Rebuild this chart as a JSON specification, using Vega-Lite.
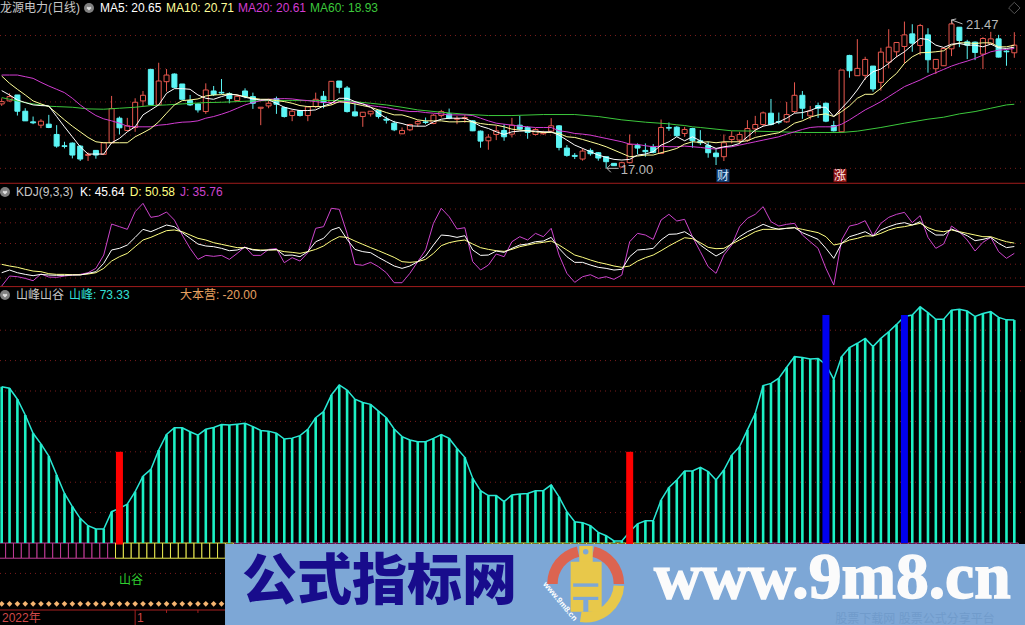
{"$schema":"https://vega.github.io/schema/vega-lite/v6.json","background":"#000000","padding":{"left":-2,"top":0,"right":0,"bottom":0},"spacing":0,"bounds":"flush",
"config":{"axis":{"disable":true},"view":{"stroke":null},"concat":{"spacing":0},"text":{"font":"Liberation Sans, Noto Sans CJK SC","fontSize":12,"align":"left","baseline":"middle"}},
"datasets":{"d":[
{"i":0,"o":18.94,"c":19.01,"h":19.11,"l":18.88,"m5":19.34,"m10":19.78,"m20":19.81,"k":7.7,"d":19.8,"j":-11.6,"f":51.4},
{"i":1,"o":19.03,"c":19.16,"h":19.26,"l":19.01,"m5":19.21,"m10":19.56,"m20":19.81,"k":11.6,"d":17.4,"j":2.9,"f":50.9},
{"i":2,"o":19.21,"c":18.72,"h":19.21,"l":18.59,"m5":19.06,"m10":19.38,"m20":19.81,"k":7.7,"d":15.5,"j":1.9,"f":47.3},
{"i":3,"o":18.72,"c":18.43,"h":18.81,"l":18.43,"m5":18.98,"m10":19.21,"m20":19.76,"k":5.3,"d":12.6,"j":-0.5,"f":42.1},
{"i":4,"o":18.40,"c":18.37,"h":18.56,"l":18.33,"m5":18.91,"m10":19.03,"m20":19.71,"k":3.4,"d":10.1,"j":-3.9,"f":36.1},
{"i":5,"o":18.30,"c":18.42,"h":18.48,"l":18.21,"m5":18.89,"m10":18.94,"m20":19.59,"k":5.3,"d":9.2,"j":5.8,"f":32.6},
{"i":6,"o":18.33,"c":18.23,"h":18.61,"l":18.21,"m5":18.88,"m10":18.86,"m20":19.48,"k":4.3,"d":6.3,"j":1.4,"f":28.6},
{"i":7,"o":18.02,"c":17.67,"h":18.30,"l":17.62,"m5":18.56,"m10":18.66,"m20":19.38,"k":3.9,"d":5.3,"j":1.0,"f":22.4},
{"i":8,"o":17.68,"c":17.66,"h":17.80,"l":17.60,"m5":18.25,"m10":18.46,"m20":19.28,"k":3.9,"d":5.3,"j":2.9,"f":16.3},
{"i":9,"o":17.76,"c":17.40,"h":17.78,"l":17.30,"m5":17.95,"m10":18.27,"m20":19.11,"k":4.3,"d":4.8,"j":4.3,"f":12.0},
{"i":10,"o":17.67,"c":17.28,"h":17.70,"l":17.22,"m5":17.65,"m10":18.10,"m20":18.91,"k":4.3,"d":4.8,"j":5.3,"f":8.1},
{"i":11,"o":17.39,"c":17.42,"h":17.48,"l":17.22,"m5":17.43,"m10":17.93,"m20":18.74,"k":6.8,"d":5.8,"j":7.7,"f":5.7},
{"i":12,"o":17.54,"c":17.40,"h":17.55,"l":17.29,"m5":17.43,"m10":17.80,"m20":18.59,"k":9.2,"d":7.7,"j":14.0,"f":4.6},
{"i":13,"o":17.42,"c":17.77,"h":17.77,"l":17.40,"m5":17.43,"m10":17.77,"m20":18.49,"k":21.3,"d":14.0,"j":33.3,"f":4.6},
{"i":14,"o":17.77,"c":18.80,"h":19.18,"l":17.75,"m5":17.77,"m10":17.77,"m20":18.43,"k":40.6,"d":24.6,"j":78.2,"f":10.3},
{"i":15,"o":18.51,"c":18.22,"h":18.56,"l":18.02,"m5":17.90,"m10":17.77,"m20":18.36,"k":43.0,"d":30.9,"j":74.4,"f":11.4},
{"i":16,"o":18.14,"c":18.28,"h":18.52,"l":18.12,"m5":18.10,"m10":17.77,"m20":18.27,"k":47.8,"d":35.7,"j":70.5,"f":12.8},
{"i":17,"o":18.23,"c":18.99,"h":19.11,"l":18.10,"m5":18.25,"m10":17.95,"m20":18.25,"k":58.9,"d":45.4,"j":96.1,"f":16.9},
{"i":18,"o":19.03,"c":19.20,"h":19.33,"l":18.88,"m5":18.61,"m10":18.07,"m20":18.25,"k":70.5,"d":55.1,"j":108.2,"f":22.0},
{"i":19,"o":19.98,"c":18.92,"h":19.98,"l":18.90,"m5":18.76,"m10":18.20,"m20":18.25,"k":67.1,"d":58.9,"j":87.9,"f":24.2},
{"i":20,"o":18.91,"c":19.63,"h":20.18,"l":18.88,"m5":18.91,"m10":18.40,"m20":18.30,"k":72.0,"d":63.8,"j":89.8,"f":30.6},
{"i":21,"o":19.61,"c":19.81,"h":19.99,"l":19.31,"m5":19.26,"m10":18.66,"m20":18.32,"k":76.8,"d":68.6,"j":95.6,"f":35.7},
{"i":22,"o":19.84,"c":19.44,"h":19.86,"l":19.41,"m5":19.40,"m10":18.91,"m20":18.36,"k":74.4,"d":69.6,"j":84.0,"f":37.9},
{"i":23,"o":19.54,"c":19.08,"h":19.54,"l":19.06,"m5":19.40,"m10":19.04,"m20":18.39,"k":65.7,"d":67.1,"j":62.3,"f":37.9},
{"i":24,"o":19.04,"c":18.91,"h":19.21,"l":18.88,"m5":19.38,"m10":19.06,"m20":18.40,"k":57.5,"d":62.3,"j":43.0,"f":36.6},
{"i":25,"o":18.94,"c":18.76,"h":18.96,"l":18.68,"m5":19.21,"m10":19.09,"m20":18.43,"k":49.3,"d":57.5,"j":27.0,"f":35.5},
{"i":26,"o":18.71,"c":19.36,"h":19.56,"l":18.64,"m5":19.11,"m10":19.18,"m20":18.51,"k":46.4,"d":55.1,"j":32.8,"f":37.4},
{"i":27,"o":19.33,"c":19.22,"h":19.48,"l":19.18,"m5":19.08,"m10":19.21,"m20":18.56,"k":45.4,"d":51.2,"j":31.4,"f":38.0},
{"i":28,"o":19.29,"c":19.27,"h":19.69,"l":19.23,"m5":19.16,"m10":19.22,"m20":18.63,"k":43.0,"d":48.8,"j":32.8,"f":39.0},
{"i":29,"o":19.25,"c":19.10,"h":19.29,"l":18.96,"m5":19.23,"m10":19.24,"m20":18.71,"k":39.6,"d":46.4,"j":27.0,"f":38.8},
{"i":30,"o":19.04,"c":19.17,"h":19.21,"l":19.02,"m5":19.21,"m10":19.21,"m20":18.81,"k":40.6,"d":44.0,"j":35.7,"f":39.1},
{"i":31,"o":19.33,"c":19.16,"h":19.41,"l":19.11,"m5":19.14,"m10":19.16,"m20":18.91,"k":44.4,"d":44.0,"j":45.4,"f":39.4},
{"i":32,"o":19.16,"c":18.96,"h":19.28,"l":18.79,"m5":19.09,"m10":19.11,"m20":18.98,"k":40.6,"d":41.5,"j":32.8,"f":38.3},
{"i":33,"o":18.81,"c":18.84,"h":18.84,"l":18.30,"m5":19.06,"m10":19.08,"m20":19.04,"k":39.6,"d":40.6,"j":32.8,"f":37.0},
{"i":34,"o":18.88,"c":18.96,"h":19.08,"l":18.81,"m5":19.06,"m10":19.08,"m20":19.08,"k":40.6,"d":40.6,"j":41.5,"f":36.8},
{"i":35,"o":19.10,"c":18.93,"h":19.16,"l":18.64,"m5":18.96,"m10":19.04,"m20":19.09,"k":41.5,"d":40.6,"j":42.5,"f":36.1},
{"i":36,"o":18.83,"c":18.56,"h":18.86,"l":18.53,"m5":18.84,"m10":19.01,"m20":19.10,"k":32.8,"d":38.2,"j":22.2,"f":34.2},
{"i":37,"o":18.59,"c":18.72,"h":18.76,"l":18.42,"m5":18.78,"m10":18.96,"m20":19.09,"k":33.3,"d":37.2,"j":29.5,"f":34.5},
{"i":38,"o":18.74,"c":18.59,"h":18.76,"l":18.56,"m5":18.74,"m10":18.89,"m20":19.06,"k":30.9,"d":35.7,"j":24.6,"f":35.3},
{"i":39,"o":18.59,"c":18.85,"h":18.86,"l":18.42,"m5":18.74,"m10":18.86,"m20":19.04,"k":38.2,"d":38.2,"j":36.7,"f":37.4},
{"i":40,"o":18.86,"c":19.08,"h":19.28,"l":18.81,"m5":18.76,"m10":18.86,"m20":19.01,"k":52.6,"d":41.5,"j":72.0,"f":41.2},
{"i":41,"o":19.17,"c":18.98,"h":19.33,"l":18.81,"m5":18.88,"m10":18.86,"m20":18.98,"k":57.5,"d":46.4,"j":74.4,"f":43.2},
{"i":42,"o":18.98,"c":19.62,"h":19.62,"l":18.91,"m5":18.96,"m10":18.91,"m20":18.98,"k":69.6,"d":54.1,"j":101.0,"f":48.7},
{"i":43,"o":19.63,"c":19.44,"h":19.63,"l":19.26,"m5":19.11,"m10":19.01,"m20":18.99,"k":73.4,"d":59.9,"j":99.5,"f":52.0},
{"i":44,"o":19.42,"c":18.71,"h":19.48,"l":18.68,"m5":19.11,"m10":18.98,"m20":19.01,"k":56.0,"d":58.9,"j":64.7,"f":50.3},
{"i":45,"o":18.70,"c":18.58,"h":18.96,"l":18.56,"m5":19.01,"m10":18.94,"m20":18.98,"k":41.5,"d":53.6,"j":19.8,"f":47.3},
{"i":46,"o":18.56,"c":18.69,"h":18.69,"l":18.25,"m5":18.94,"m10":18.89,"m20":18.94,"k":38.2,"d":48.8,"j":18.4,"f":46.2},
{"i":47,"o":18.64,"c":18.72,"h":18.72,"l":18.56,"m5":18.84,"m10":18.84,"m20":18.89,"k":36.7,"d":44.0,"j":22.7,"f":45.6},
{"i":48,"o":18.75,"c":18.56,"h":18.75,"l":18.50,"m5":18.66,"m10":18.76,"m20":18.86,"k":29.9,"d":39.6,"j":16.4,"f":43.4},
{"i":49,"o":18.48,"c":18.45,"h":18.56,"l":18.35,"m5":18.51,"m10":18.68,"m20":18.83,"k":23.7,"d":34.8,"j":7.7,"f":41.2},
{"i":50,"o":18.36,"c":18.16,"h":18.43,"l":18.12,"m5":18.40,"m10":18.61,"m20":18.78,"k":17.4,"d":29.9,"j":-6.8,"f":37.5},
{"i":51,"o":18.04,"c":18.14,"h":18.23,"l":18.03,"m5":18.35,"m10":18.61,"m20":18.74,"k":14.0,"d":23.7,"j":-6.8,"f":35.0},
{"i":52,"o":18.16,"c":18.32,"h":18.34,"l":18.12,"m5":18.28,"m10":18.54,"m20":18.71,"k":17.4,"d":22.7,"j":6.8,"f":33.9},
{"i":53,"o":18.34,"c":18.41,"h":18.45,"l":18.25,"m5":18.27,"m10":18.46,"m20":18.71,"k":23.7,"d":23.7,"j":23.7,"f":33.3},
{"i":54,"o":18.40,"c":18.38,"h":18.53,"l":18.33,"m5":18.27,"m10":18.43,"m20":18.68,"k":31.9,"d":27.0,"j":40.6,"f":33.3},
{"i":55,"o":18.35,"c":18.60,"h":18.63,"l":18.33,"m5":18.40,"m10":18.43,"m20":18.66,"k":47.8,"d":35.7,"j":79.2,"f":34.4},
{"i":56,"o":18.59,"c":18.71,"h":18.76,"l":18.53,"m5":18.48,"m10":18.43,"m20":18.64,"k":62.3,"d":46.9,"j":101.0,"f":35.7},
{"i":57,"o":18.64,"c":18.51,"h":18.80,"l":18.48,"m5":18.51,"m10":18.40,"m20":18.61,"k":61.3,"d":51.2,"j":88.9,"f":34.4},
{"i":58,"o":18.48,"c":18.50,"h":18.58,"l":18.33,"m5":18.51,"m10":18.40,"m20":18.61,"k":58.9,"d":53.6,"j":71.0,"f":31.1},
{"i":59,"o":18.50,"c":18.53,"h":18.61,"l":18.37,"m5":18.51,"m10":18.41,"m20":18.61,"k":61.3,"d":55.1,"j":72.9,"f":28.2},
{"i":60,"o":18.43,"c":18.13,"h":18.45,"l":18.12,"m5":18.40,"m10":18.40,"m20":18.59,"k":40.6,"d":49.3,"j":23.7,"f":21.3},
{"i":61,"o":18.12,"c":17.82,"h":18.14,"l":17.62,"m5":18.27,"m10":18.35,"m20":18.51,"k":32.8,"d":44.0,"j":11.6,"f":17.2},
{"i":62,"o":17.83,"c":17.94,"h":18.03,"l":17.56,"m5":18.20,"m10":18.32,"m20":18.43,"k":33.3,"d":41.5,"j":18.8,"f":15.6},
{"i":63,"o":18.02,"c":18.13,"h":18.28,"l":17.85,"m5":18.10,"m10":18.30,"m20":18.36,"k":39.1,"d":39.6,"j":34.8,"f":15.6},
{"i":64,"o":18.14,"c":17.95,"h":18.33,"l":17.83,"m5":18.02,"m10":18.25,"m20":18.33,"k":37.2,"d":38.6,"j":30.9,"f":13.6},
{"i":65,"o":18.03,"c":18.30,"h":18.52,"l":17.93,"m5":18.10,"m10":18.18,"m20":18.30,"k":43.0,"d":41.5,"j":52.6,"f":15.8},
{"i":66,"o":18.30,"c":18.18,"h":18.58,"l":18.15,"m5":18.12,"m10":18.15,"m20":18.27,"k":47.8,"d":45.4,"j":59.9,"f":16.1},
{"i":67,"o":18.23,"c":18.08,"h":18.27,"l":17.89,"m5":18.13,"m10":18.13,"m20":18.25,"k":49.3,"d":47.8,"j":55.1,"f":16.3},
{"i":68,"o":18.02,"c":18.17,"h":18.21,"l":17.99,"m5":18.12,"m10":18.10,"m20":18.23,"k":52.6,"d":50.2,"j":64.7,"f":17.2},
{"i":69,"o":18.04,"c":18.07,"h":18.13,"l":18.01,"m5":18.10,"m10":18.08,"m20":18.23,"k":53.6,"d":51.7,"j":59.9,"f":17.2},
{"i":70,"o":18.12,"c":18.28,"h":18.51,"l":18.09,"m5":18.10,"m10":18.08,"m20":18.23,"k":58.9,"d":53.6,"j":72.0,"f":19.1},
{"i":71,"o":18.28,"c":17.63,"h":18.30,"l":17.54,"m5":18.00,"m10":18.05,"m20":18.13,"k":43.0,"d":47.8,"j":33.3,"f":15.2},
{"i":72,"o":17.61,"c":17.39,"h":17.70,"l":17.35,"m5":17.85,"m10":17.95,"m20":18.10,"k":30.9,"d":40.6,"j":6.8,"f":10.3},
{"i":73,"o":17.39,"c":17.36,"h":17.46,"l":17.28,"m5":17.70,"m10":17.93,"m20":18.05,"k":22.7,"d":33.3,"j":-6.3,"f":7.0},
{"i":74,"o":17.28,"c":17.52,"h":17.60,"l":17.23,"m5":17.60,"m10":17.87,"m20":18.03,"k":22.7,"d":30.0,"j":1.9,"f":6.7},
{"i":75,"o":17.54,"c":17.44,"h":17.60,"l":17.38,"m5":17.50,"m10":17.80,"m20":18.00,"k":18.8,"d":26.1,"j":4.8,"f":5.7},
{"i":76,"o":17.47,"c":17.31,"h":17.49,"l":17.23,"m5":17.40,"m10":17.73,"m20":17.95,"k":15.5,"d":22.7,"j":-0.5,"f":3.5},
{"i":77,"o":17.35,"c":17.20,"h":17.35,"l":17.00,"m5":17.33,"m10":17.65,"m20":17.90,"k":14.0,"d":20.3,"j":1.9,"f":2.4},
{"i":78,"o":17.15,"c":17.08,"h":17.15,"l":17.07,"m5":17.27,"m10":17.55,"m20":17.85,"k":11.6,"d":17.4,"j":-1.9,"f":0.7},
{"i":79,"o":17.04,"c":17.17,"h":17.20,"l":17.02,"m5":17.25,"m10":17.45,"m20":17.80,"k":12.6,"d":15.5,"j":4.3,"f":0.7},
{"i":80,"o":17.17,"c":17.72,"h":18.02,"l":17.15,"m5":17.27,"m10":17.35,"m20":17.73,"k":30.9,"d":17.4,"j":52.6,"f":3.7},
{"i":81,"o":17.69,"c":17.61,"h":17.75,"l":17.43,"m5":17.40,"m10":17.37,"m20":17.72,"k":40.6,"d":24.6,"j":64.7,"f":6.3},
{"i":82,"o":17.54,"c":17.50,"h":17.75,"l":17.35,"m5":17.43,"m10":17.40,"m20":17.68,"k":41.5,"d":29.5,"j":62.3,"f":7.3},
{"i":83,"o":17.64,"c":17.48,"h":17.73,"l":17.45,"m5":17.50,"m10":17.40,"m20":17.65,"k":43.0,"d":33.3,"j":56.0,"f":7.3},
{"i":84,"o":17.45,"c":18.23,"h":18.47,"l":17.43,"m5":17.70,"m10":17.47,"m20":17.67,"k":55.1,"d":39.6,"j":84.0,"f":14.1},
{"i":85,"o":18.23,"c":18.21,"h":18.38,"l":18.13,"m5":17.80,"m10":17.53,"m20":17.65,"k":63.3,"d":46.4,"j":92.3,"f":18.3},
{"i":86,"o":18.24,"c":17.98,"h":18.27,"l":17.95,"m5":17.95,"m10":17.60,"m20":17.65,"k":63.8,"d":52.6,"j":82.6,"f":20.7},
{"i":87,"o":18.05,"c":18.17,"h":18.25,"l":17.95,"m5":17.83,"m10":17.73,"m20":17.67,"k":67.1,"d":58.4,"j":85.0,"f":23.7},
{"i":88,"o":18.20,"c":17.83,"h":18.22,"l":17.62,"m5":17.95,"m10":17.80,"m20":17.65,"k":59.9,"d":57.0,"j":59.9,"f":23.7},
{"i":89,"o":17.83,"c":17.77,"h":18.15,"l":17.70,"m5":17.83,"m10":17.78,"m20":17.63,"k":47.8,"d":51.2,"j":38.2,"f":24.9},
{"i":90,"o":17.69,"c":17.47,"h":17.80,"l":17.32,"m5":17.70,"m10":17.80,"m20":17.60,"k":39.6,"d":44.4,"j":16.4,"f":23.5},
{"i":91,"o":17.46,"c":17.35,"h":17.58,"l":17.10,"m5":17.60,"m10":17.77,"m20":17.58,"k":31.9,"d":42.5,"j":6.8,"f":20.7},
{"i":92,"o":17.35,"c":17.77,"h":18.02,"l":17.22,"m5":17.65,"m10":17.80,"m20":17.63,"k":38.2,"d":43.0,"j":33.3,"f":24.0},
{"i":93,"o":17.87,"c":17.96,"h":18.12,"l":17.75,"m5":17.68,"m10":17.80,"m20":17.65,"k":50.2,"d":49.3,"j":47.8,"f":28.9},
{"i":94,"o":17.85,"c":18.02,"h":18.10,"l":17.75,"m5":17.75,"m10":17.80,"m20":17.70,"k":59.9,"d":55.1,"j":74.4,"f":31.7},
{"i":95,"o":17.85,"c":18.20,"h":18.45,"l":17.80,"m5":17.95,"m10":17.83,"m20":17.75,"k":67.1,"d":60.9,"j":86.5,"f":37.2},
{"i":96,"o":18.19,"c":18.32,"h":18.58,"l":18.05,"m5":18.15,"m10":17.93,"m20":17.80,"k":72.0,"d":67.1,"j":92.3,"f":42.7},
{"i":97,"o":18.32,"c":18.67,"h":18.71,"l":18.27,"m5":18.27,"m10":17.98,"m20":17.85,"k":77.8,"d":70.5,"j":103.4,"f":51.8},
{"i":98,"o":18.66,"c":18.32,"h":19.09,"l":18.29,"m5":18.32,"m10":18.03,"m20":17.90,"k":73.4,"d":70.5,"j":81.6,"f":52.5},
{"i":99,"o":18.41,"c":18.39,"h":18.68,"l":18.33,"m5":18.40,"m10":18.07,"m20":17.95,"k":70.5,"d":71.0,"j":75.3,"f":54.2},
{"i":100,"o":18.40,"c":18.62,"h":19.00,"l":18.37,"m5":18.51,"m10":18.20,"m20":18.03,"k":72.0,"d":72.0,"j":77.8,"f":57.8},
{"i":101,"o":18.71,"c":19.20,"h":19.59,"l":18.66,"m5":18.66,"m10":18.36,"m20":18.10,"k":72.9,"d":72.9,"j":79.2,"f":61.3},
{"i":102,"o":19.20,"c":18.81,"h":19.33,"l":18.49,"m5":18.68,"m10":18.43,"m20":18.17,"k":65.7,"d":70.5,"j":62.3,"f":61.0},
{"i":103,"o":18.58,"c":18.73,"h":18.88,"l":18.47,"m5":18.74,"m10":18.54,"m20":18.23,"k":60.9,"d":68.1,"j":52.6,"f":60.5},
{"i":104,"o":18.89,"c":18.81,"h":18.98,"l":18.52,"m5":18.84,"m10":18.61,"m20":18.25,"k":56.0,"d":65.7,"j":43.0,"f":60.7},
{"i":105,"o":18.96,"c":18.42,"h":18.98,"l":18.39,"m5":18.84,"m10":18.64,"m20":18.25,"k":43.0,"d":59.9,"j":14.0,"f":58.6},
{"i":106,"o":18.29,"c":18.13,"h":18.43,"l":18.11,"m5":18.56,"m10":18.56,"m20":18.25,"k":28.5,"d":47.8,"j":-10.1,"f":53.8},
{"i":107,"o":18.10,"c":19.96,"h":19.96,"l":18.08,"m5":18.81,"m10":18.71,"m20":18.33,"k":50.2,"d":50.2,"j":55.1,"f":61.3},
{"i":108,"o":20.40,"c":19.94,"h":20.42,"l":19.73,"m5":19.06,"m10":18.88,"m20":18.46,"k":59.9,"d":55.1,"j":75.3,"f":64.3},
{"i":109,"o":19.79,"c":20.01,"h":20.89,"l":19.78,"m5":19.36,"m10":19.11,"m20":18.61,"k":63.3,"d":57.5,"j":77.8,"f":65.7},
{"i":110,"o":19.80,"c":20.28,"h":20.36,"l":19.66,"m5":19.71,"m10":19.23,"m20":18.76,"k":67.1,"d":60.9,"j":83.1,"f":67.3},
{"i":111,"o":20.08,"c":19.39,"h":20.08,"l":19.31,"m5":19.91,"m10":19.23,"m20":18.88,"k":60.9,"d":60.9,"j":61.3,"f":64.6},
{"i":112,"o":19.59,"c":20.50,"h":20.63,"l":19.34,"m5":19.99,"m10":19.41,"m20":19.01,"k":69.6,"d":64.7,"j":79.2,"f":67.3},
{"i":113,"o":20.20,"c":20.65,"h":21.19,"l":20.01,"m5":20.16,"m10":19.66,"m20":19.16,"k":74.4,"d":69.6,"j":87.9,"f":69.5},
{"i":114,"o":20.51,"c":20.79,"h":20.79,"l":20.34,"m5":20.36,"m10":19.86,"m20":19.31,"k":78.2,"d":72.9,"j":92.3,"f":71.9},
{"i":115,"o":20.67,"c":21.02,"h":21.42,"l":20.16,"m5":20.51,"m10":20.16,"m20":19.46,"k":80.2,"d":74.4,"j":95.1,"f":74.5},
{"i":116,"o":21.05,"c":20.77,"h":21.34,"l":20.51,"m5":20.71,"m10":20.36,"m20":19.56,"k":76.8,"d":76.8,"j":80.2,"f":75.0},
{"i":117,"o":20.70,"c":21.30,"h":21.35,"l":20.41,"m5":20.91,"m10":20.48,"m20":19.66,"k":81.6,"d":79.2,"j":90.3,"f":77.7},
{"i":118,"o":21.02,"c":20.27,"h":21.22,"l":19.88,"m5":20.88,"m10":20.49,"m20":19.78,"k":69.6,"d":72.9,"j":58.9,"f":75.8},
{"i":119,"o":20.00,"c":20.28,"h":20.28,"l":19.84,"m5":20.71,"m10":20.51,"m20":19.88,"k":62.3,"d":68.6,"j":43.0,"f":73.6},
{"i":120,"o":20.09,"c":20.61,"h":20.65,"l":20.08,"m5":20.64,"m10":20.54,"m20":19.98,"k":62.3,"d":67.1,"j":49.3,"f":73.6},
{"i":121,"o":20.60,"c":21.35,"h":21.47,"l":20.38,"m5":20.74,"m10":20.71,"m20":20.08,"k":71.0,"d":69.6,"j":75.3,"f":76.6},
{"i":122,"o":21.25,"c":20.85,"h":21.25,"l":20.65,"m5":20.76,"m10":20.78,"m20":20.16,"k":66.2,"d":67.1,"j":67.1,"f":76.9},
{"i":123,"o":20.81,"c":20.71,"h":20.87,"l":20.29,"m5":20.71,"m10":20.78,"m20":20.23,"k":61.3,"d":64.7,"j":55.1,"f":76.3},
{"i":124,"o":20.80,"c":20.49,"h":20.82,"l":20.26,"m5":20.71,"m10":20.76,"m20":20.31,"k":54.1,"d":62.3,"j":39.1,"f":74.5},
{"i":125,"o":20.44,"c":20.91,"h":20.95,"l":19.99,"m5":20.66,"m10":20.78,"m20":20.41,"k":56.0,"d":59.9,"j":51.7,"f":75.5},
{"i":126,"o":20.75,"c":20.90,"h":21.11,"l":20.72,"m5":20.74,"m10":20.78,"m20":20.51,"k":58.9,"d":59.9,"j":58.9,"f":76.1},
{"i":127,"o":20.90,"c":20.35,"h":21.02,"l":20.34,"m5":20.63,"m10":20.66,"m20":20.56,"k":50.2,"d":56.0,"j":38.2,"f":74.2},
{"i":128,"o":20.53,"c":20.51,"h":20.56,"l":20.09,"m5":20.61,"m10":20.66,"m20":20.58,"k":44.0,"d":52.6,"j":28.5,"f":73.4},
{"i":129,"o":20.48,"c":20.71,"h":21.10,"l":20.33,"m5":20.65,"m10":20.71,"m20":20.61,"k":45.64,"d":50.58,"j":35.76,"f":73.33}
],
"ma60":[{"i":0,"v":19.13},{"i":1,"v":19.08},{"i":2,"v":19.03},{"i":3,"v":18.98},{"i":4,"v":18.94},{"i":5,"v":18.91},{"i":6,"v":18.87},{"i":7,"v":18.86},{"i":9,"v":18.84},{"i":11,"v":18.79},{"i":13,"v":18.78},{"i":15,"v":18.81},{"i":17,"v":18.84},{"i":19,"v":18.89},{"i":21,"v":18.91},{"i":23,"v":18.94},{"i":26,"v":18.98},{"i":28,"v":18.99},{"i":30,"v":19.01},{"i":32,"v":19.03},{"i":34,"v":19.04},{"i":37,"v":19.04},{"i":40,"v":19.04},{"i":43,"v":19.04},{"i":44,"v":19.03},{"i":47,"v":18.96},{"i":49,"v":18.91},{"i":51,"v":18.84},{"i":53,"v":18.76},{"i":56,"v":18.69},{"i":59,"v":18.63},{"i":62,"v":18.59},{"i":65,"v":18.59},{"i":69,"v":18.62},{"i":73,"v":18.62},{"i":76,"v":18.56},{"i":79,"v":18.46},{"i":82,"v":18.39},{"i":85,"v":18.34},{"i":86,"v":18.31},{"i":87,"v":18.29},{"i":88,"v":18.25},{"i":89,"v":18.23},{"i":91,"v":18.18},{"i":93,"v":18.13},{"i":96,"v":18.12},{"i":99,"v":18.10},{"i":102,"v":18.08},{"i":105,"v":18.08},{"i":107,"v":18.08},{"i":109,"v":18.12},{"i":112,"v":18.23},{"i":115,"v":18.36},{"i":118,"v":18.48},{"i":120,"v":18.54},{"i":122,"v":18.64},{"i":124,"v":18.71},{"i":126,"v":18.81},{"i":128,"v":18.91},{"i":129,"v":18.93}]
},
"vconcat":[
{"width":1025,"height":184,
"encoding":{"x":{"scale":{"domain":[-0.2166,130.36],"nice":false,"zero":false,"padding":0}}},
"layer":[
{"data":{"values":[{"v":17},{"v":18},{"v":19},{"v":20},{"v":21}]},"mark":{"type":"rule","color":"#7a1c1c","strokeDash":[1,4]},"encoding":{"x":{"datum":-0.2166},"x2":{"datum":130.36},"y":{"field":"v","type":"quantitative","scale":{"domain":[16.528,22.07],"nice":false,"zero":false}}}},
{"data":{"name":"d"},"transform":[{"filter":"datum.c>=datum.o"}],"mark":{"type":"rule","color":"#e8584e"},"encoding":{"x":{"field":"i","type":"quantitative"},"y":{"field":"h","type":"quantitative"},"y2":{"field":"l"}}},
{"data":{"name":"d"},"transform":[{"filter":"datum.c<datum.o"}],"mark":{"type":"rule","color":"#5cf5f5"},"encoding":{"x":{"field":"i","type":"quantitative"},"y":{"field":"h","type":"quantitative"},"y2":{"field":"l"}}},
{"data":{"name":"d"},"transform":[{"filter":"datum.c>=datum.o"}],"mark":{"type":"bar","clip":true,"width":5,"fill":"#000000","stroke":"#e8584e","strokeWidth":1},"encoding":{"x":{"field":"i","type":"quantitative"},"y":{"field":"c","type":"quantitative"},"y2":{"field":"o"}}},
{"data":{"name":"d"},"transform":[{"filter":"datum.c<datum.o"}],"mark":{"type":"bar","clip":true,"width":5,"fill":"#5cf5f5","stroke":"#5cf5f5","strokeWidth":1},"encoding":{"x":{"field":"i","type":"quantitative"},"y":{"field":"o","type":"quantitative"},"y2":{"field":"c"}}},
{"data":{"name":"ma60"},"mark":{"type":"line","color":"#3cc83c","strokeWidth":1},"encoding":{"x":{"field":"i","type":"quantitative"},"y":{"field":"v","type":"quantitative"}}},
{"data":{"name":"d"},"mark":{"type":"line","color":"#d23cd2","strokeWidth":1},"encoding":{"x":{"field":"i","type":"quantitative"},"y":{"field":"m20","type":"quantitative"}}},
{"data":{"name":"d"},"mark":{"type":"line","color":"#ffff99","strokeWidth":1},"encoding":{"x":{"field":"i","type":"quantitative"},"y":{"field":"m10","type":"quantitative"}}},
{"data":{"name":"d"},"mark":{"type":"line","color":"#ffffff","strokeWidth":1},"encoding":{"x":{"field":"i","type":"quantitative"},"y":{"field":"m5","type":"quantitative"}}},
{"data":{"values":[{"a":77.1,"b":78.6,"p":17.0,"q":17.0},{"a":77.1,"b":77.6,"p":17.0,"q":17.12},{"a":77.1,"b":77.6,"p":17.0,"q":16.88},{"a":121,"b":122.4,"p":21.47,"q":21.35},{"a":121,"b":121.6,"p":21.47,"q":21.5},{"a":121,"b":121.1,"p":21.47,"q":21.35}]},"mark":{"type":"rule","color":"#b8b8b8"},"encoding":{"x":{"field":"a","type":"quantitative"},"x2":{"field":"b"},"y":{"field":"p","type":"quantitative"},"y2":{"field":"q"}}},
{"data":{"values":[{"t":"17.00"}]},"mark":{"type":"text","color":"#b8b8b8","fontSize":13},"encoding":{"x":{"datum":78.85},"y":{"datum":16.95},"text":{"field":"t"}}},
{"data":{"values":[{"t":"21.47"}]},"mark":{"type":"text","color":"#b8b8b8","fontSize":13},"encoding":{"x":{"datum":122.85},"y":{"datum":21.33},"text":{"field":"t"}}},
{"data":{"values":[{"t":"x"}]},"mark":{"type":"point","shape":"square","filled":true,"size":170,"color":"#0f3a6e","opacity":1},"encoding":{"x":{"datum":91.88},"y":{"datum":16.78}}},
{"data":{"values":[{"t":"财"}]},"mark":{"type":"text","align":"center","color":"#cfe6ff"},"encoding":{"x":{"datum":91.88},"y":{"datum":16.78},"text":{"field":"t"}}},
{"data":{"values":[{"t":"x"}]},"mark":{"type":"point","shape":"square","filled":true,"size":170,"color":"#8b1212","opacity":1},"encoding":{"x":{"datum":106.8},"y":{"datum":16.78}}},
{"data":{"values":[{"t":"涨"}]},"mark":{"type":"text","align":"center","color":"#ffe6e6"},"encoding":{"x":{"datum":106.8},"y":{"datum":16.78},"text":{"field":"t"}}},
{"data":{"values":[{"t":"x"}]},"mark":{"type":"point","shape":"diamond","filled":false,"size":130,"color":"#555555","strokeWidth":1,"opacity":1},"encoding":{"x":{"datum":129},"y":{"datum":21.83}}},
{"data":{"values":[{"t":"x"}]},"mark":{"type":"point","shape":"circle","filled":true,"size":100,"color":"#808080","opacity":1},"encoding":{"x":{"datum":11.12},"y":{"datum":21.83}}},
{"data":{"values":[{"t":"x"}]},"mark":{"type":"point","shape":"M-0.6,-0.25L0,0.35L0.6,-0.25","filled":false,"size":36,"color":"#e0e0e0","opacity":1},"encoding":{"x":{"datum":11.12},"y":{"datum":21.83}}},
{"data":{"values":[{"t":"龙源电力(日线)"}]},"mark":{"type":"text","color":"#c8c8c8"},"encoding":{"x":{"datum":-0.2166},"y":{"datum":21.83},"text":{"field":"t"}}},
{"data":{"values":[{"t":"MA5: 20.65"}]},"mark":{"type":"text","color":"#ffffff"},"encoding":{"x":{"datum":12.52},"y":{"datum":21.83},"text":{"field":"t"}}},
{"data":{"values":[{"t":"MA10: 20.71"}]},"mark":{"type":"text","color":"#ffff99"},"encoding":{"x":{"datum":20.93},"y":{"datum":21.83},"text":{"field":"t"}}},
{"data":{"values":[{"t":"MA20: 20.61"}]},"mark":{"type":"text","color":"#d23cd2"},"encoding":{"x":{"datum":30.1},"y":{"datum":21.83},"text":{"field":"t"}}},
{"data":{"values":[{"t":"MA60: 18.93"}]},"mark":{"type":"text","color":"#3cc83c"},"encoding":{"x":{"datum":39.27},"y":{"datum":21.83},"text":{"field":"t"}}},
{"data":{"values":[{"t":"x"}]},"mark":{"type":"rule","color":"#a01c1c"},"encoding":{"x":{"datum":-0.2166},"x2":{"datum":130.36},"y":{"datum":16.55}}}
]},
{"width":1025,"height":103,
"encoding":{"x":{"scale":{"domain":[-0.2166,130.36],"nice":false,"zero":false,"padding":0}}},
"layer":[
{"data":{"values":[{"v":0},{"v":20},{"v":50},{"v":80},{"v":100}]},"mark":{"type":"rule","color":"#7a1c1c","strokeDash":[1,4]},"encoding":{"x":{"datum":-0.2166},"x2":{"datum":130.36},"y":{"field":"v","type":"quantitative","scale":{"domain":[-13,136.2],"nice":false,"zero":false}}}},
{"data":{"name":"d"},"mark":{"type":"line","color":"#cc44cc","strokeWidth":1},"encoding":{"x":{"field":"i","type":"quantitative"},"y":{"field":"j","type":"quantitative"}}},
{"data":{"name":"d"},"mark":{"type":"line","color":"#ffff80","strokeWidth":1},"encoding":{"x":{"field":"i","type":"quantitative"},"y":{"field":"d","type":"quantitative"}}},
{"data":{"name":"d"},"mark":{"type":"line","color":"#ffffff","strokeWidth":1},"encoding":{"x":{"field":"i","type":"quantitative"},"y":{"field":"k","type":"quantitative"}}},
{"data":{"values":[{"t":"x"}]},"mark":{"type":"point","clip":true,"shape":"circle","filled":true,"size":100,"color":"#808080","opacity":1},"encoding":{"x":{"datum":0.42},"y":{"datum":124.6}}},
{"data":{"values":[{"t":"x"}]},"mark":{"type":"point","shape":"M-0.6,-0.25L0,0.35L0.6,-0.25","filled":false,"size":36,"color":"#e0e0e0","opacity":1},"encoding":{"x":{"datum":0.42},"y":{"datum":124.6}}},
{"data":{"values":[{"t":"KDJ(9,3,3)"}]},"mark":{"type":"text","color":"#c8c8c8"},"encoding":{"x":{"datum":1.82},"y":{"datum":124.6},"text":{"field":"t"}}},
{"data":{"values":[{"t":"K: 45.64"}]},"mark":{"type":"text","color":"#ffffff"},"encoding":{"x":{"datum":9.97},"y":{"datum":124.6},"text":{"field":"t"}}},
{"data":{"values":[{"t":"D: 50.58"}]},"mark":{"type":"text","color":"#ffff80"},"encoding":{"x":{"datum":16.3},"y":{"datum":124.6},"text":{"field":"t"}}},
{"data":{"values":[{"t":"J: 35.76"}]},"mark":{"type":"text","color":"#cc44cc"},"encoding":{"x":{"datum":22.7},"y":{"datum":124.6},"text":{"field":"t"}}},
{"data":{"values":[{"t":"x"}]},"mark":{"type":"rule","color":"#a01c1c"},"encoding":{"x":{"datum":-0.2166},"x2":{"datum":130.36},"y":{"datum":-12.4}}}
]},
{"width":1025,"height":338,
"encoding":{"x":{"scale":{"domain":[-0.2166,130.36],"nice":false,"zero":false,"padding":0}}},
"layer":[
{"data":{"values":[{"v":-10},{"v":10},{"v":20},{"v":30},{"v":40},{"v":50},{"v":60},{"v":70}]},"mark":{"type":"rule","color":"#7a1c1c","strokeDash":[1,4]},"encoding":{"x":{"datum":-0.2166},"x2":{"datum":130.36},"y":{"field":"v","type":"quantitative","scale":{"domain":[-26.97,84.21],"nice":false,"zero":false}}}},
{"data":{"name":"d"},"transform":[{"filter":"datum.i<15||(datum.i>=30&&datum.i<=61)||datum.i>=98"}],"mark":{"type":"bar","clip":true,"width":7.85,"fill":"#000000","stroke":"#c03c96","strokeWidth":1},"encoding":{"x":{"field":"i","type":"quantitative"},"y":{"datum":0},"y2":{"datum":-5}}},
{"data":{"name":"d"},"transform":[{"filter":"!(datum.i<15||(datum.i>=30&&datum.i<=61)||datum.i>=98)"}],"mark":{"type":"bar","clip":true,"width":7.85,"fill":"#000000","stroke":"#e8e850","strokeWidth":1},"encoding":{"x":{"field":"i","type":"quantitative"},"y":{"datum":0},"y2":{"datum":-5}}},
{"data":{"name":"d"},"mark":{"type":"bar","clip":true,"width":2.6,"color":"#1cf0c4"},"encoding":{"x":{"field":"i","type":"quantitative"},"y":{"field":"f","type":"quantitative"},"y2":{"datum":0}}},
{"data":{"name":"d"},"mark":{"type":"line","color":"#28e8d4","strokeWidth":1.5},"encoding":{"x":{"field":"i","type":"quantitative"},"y":{"field":"f","type":"quantitative"}}},
{"data":{"values":[{"i":15,"top":30},{"i":80,"top":30}]},"mark":{"type":"bar","width":7,"color":"#ff0000"},"encoding":{"x":{"field":"i","type":"quantitative"},"y":{"field":"top","type":"quantitative"},"y2":{"datum":-0.5}}},
{"data":{"values":[{"i":105,"top":75},{"i":115,"top":75}]},"mark":{"type":"bar","width":7,"color":"#0000f0"},"encoding":{"x":{"field":"i","type":"quantitative"},"y":{"field":"top","type":"quantitative"},"y2":{"datum":0}}},
{"data":{"values":[{"t":"x"}]},"mark":{"type":"point","clip":true,"shape":"circle","filled":true,"size":100,"color":"#808080","opacity":1},"encoding":{"x":{"datum":0.42},"y":{"datum":81.6}}},
{"data":{"values":[{"t":"x"}]},"mark":{"type":"point","shape":"M-0.6,-0.25L0,0.35L0.6,-0.25","filled":false,"size":36,"color":"#e0e0e0","opacity":1},"encoding":{"x":{"datum":0.42},"y":{"datum":81.6}}},
{"data":{"values":[{"t":"山峰山谷"}]},"mark":{"type":"text","color":"#c8c8c8"},"encoding":{"x":{"datum":1.82},"y":{"datum":81.6},"text":{"field":"t"}}},
{"data":{"values":[{"t":"山峰: 73.33"}]},"mark":{"type":"text","color":"#33e0d8"},"encoding":{"x":{"datum":8.57},"y":{"datum":81.6},"text":{"field":"t"}}},
{"data":{"values":[{"t":"大本营: -20.00"}]},"mark":{"type":"text","color":"#e8a060"},"encoding":{"x":{"datum":22.7},"y":{"datum":81.6},"text":{"field":"t"}}},
{"data":{"values":[{"t":"山谷"}]},"mark":{"type":"text","color":"#30d030"},"encoding":{"x":{"datum":14.95},"y":{"datum":-12.2},"text":{"field":"t"}}},
{"data":{"name":"d"},"mark":{"type":"point","clip":true,"shape":"diamond","filled":true,"size":32,"color":"#f5b470","opacity":1},"encoding":{"x":{"field":"i","type":"quantitative"},"y":{"datum":-20}}},
{"data":{"values":[{"t":"x"}]},"mark":{"type":"rule","color":"#a52020"},"encoding":{"x":{"datum":-0.2166},"x2":{"datum":130.36},"y":{"datum":-22.04}}},
{"data":{"values":[{"i":17,"top":-22,"bot":-27},{"i":21,"top":-22,"bot":-23},{"i":25,"top":-22,"bot":-23}]},"mark":{"type":"rule","color":"#a52020"},"encoding":{"x":{"field":"i","type":"quantitative"},"y":{"field":"top","type":"quantitative"},"y2":{"field":"bot"}}},
{"data":{"values":[{"t":"2022年"}]},"mark":{"type":"text","color":"#d04848"},"encoding":{"x":{"datum":0.04},"y":{"datum":-24.7},"text":{"field":"t"}}},
{"data":{"values":[{"t":"1"}]},"mark":{"type":"text","color":"#d04848"},"encoding":{"x":{"datum":17.25},"y":{"datum":-24.7},"text":{"field":"t"}}},
{"data":{"values":[{"t":"x"}]},"mark":{"type":"rect","color":"#7da7d6"},"encoding":{"x":{"datum":28.45},"x2":{"datum":130.36},"y":{"datum":-0.35},"y2":{"datum":-26.97}}},
{"data":{"values":[{"t":"公式指标网"}]},"mark":{"type":"text","color":"#180c8c","fontSize":55,"fontWeight":900,"font":"Noto Sans CJK SC"},"encoding":{"x":{"datum":30.6},"y":{"datum":-12.7},"text":{"field":"t"}}},
{"data":{"values":[{"t":"www.9m8.cn"}]},"mark":{"type":"text","color":"#fbfbfb","stroke":"#fbfbfb","strokeWidth":1.5,"fontSize":65.5,"fontWeight":"bold","font":"Liberation Serif","baseline":"alphabetic"},"encoding":{"x":{"datum":83.1},"y":{"datum":-18.1},"text":{"field":"t"}}},
{"data":{"values":[{"t":"股票下载网  股票公式分享平台"}]},"mark":{"type":"text","color":"#709bcb","fontSize":12},"encoding":{"x":{"datum":106.2},"y":{"datum":-24.9},"text":{"field":"t"}}},
{"data":{"values":[{"t":"x"}]},"mark":{"type":"arc","theta":-1.57,"theta2":-0.23,"radius":38.5,"radius2":28,"fill":"#dc6450"},"encoding":{"x":{"datum":74.39},"y":{"datum":-13.49}}},
{"data":{"values":[{"t":"x"}]},"mark":{"type":"arc","theta":0.23,"theta2":1.57,"radius":38.5,"radius2":28,"fill":"#dc6450"},"encoding":{"x":{"datum":74.39},"y":{"datum":-13.49}}},
{"data":{"values":[{"t":"x"}]},"mark":{"type":"arc","theta":1.62,"theta2":3.29,"radius":38.5,"radius2":28,"fill":"#e8c84a"},"encoding":{"x":{"datum":74.39},"y":{"datum":-13.49}}},
{"data":{"values":[{"a":73.58,"b":75.29,"p":-0.99,"q":-6.69},{"a":72.48,"b":76.43,"p":-6.2,"q":-22.6}]},"mark":{"type":"rect","color":"#e8c84a"},"encoding":{"x":{"field":"a","type":"quantitative"},"x2":{"field":"b"},"y":{"field":"p","type":"quantitative"},"y2":{"field":"q"}}},
{"data":{"values":[{"a":72.8,"b":76.0,"p":-13.27,"q":-14.4},{"a":72.8,"b":76.0,"p":-17.7,"q":-18.75},{"a":74.09,"b":74.73,"p":-18.75,"q":-22.6}]},"mark":{"type":"rect","color":"#7da7d6"},"encoding":{"x":{"field":"a","type":"quantitative"},"x2":{"field":"b"},"y":{"field":"p","type":"quantitative"},"y2":{"field":"q"}}},
{"data":{"values":[{"t":"x"}]},"mark":{"type":"point","shape":"circle","filled":true,"size":30,"color":"#7da7d6","opacity":1},"encoding":{"x":{"datum":74.4},"y":{"datum":-2.85}}},
{"data":{"values":[{"t":"www.9m8.cn"}]},"mark":{"type":"text","color":"#ffffff","fontSize":8,"fontWeight":"bold","align":"center","angle":50},"encoding":{"x":{"datum":71.1},"y":{"datum":-19.3},"text":{"field":"t"}}}
]}
]}
